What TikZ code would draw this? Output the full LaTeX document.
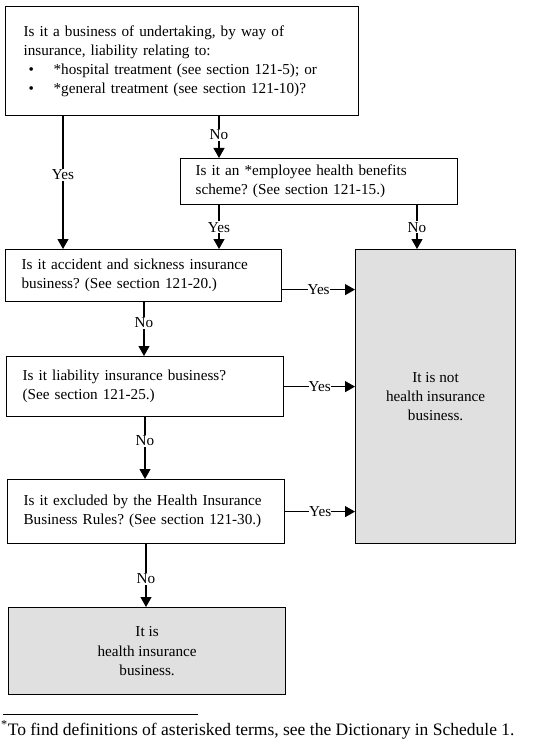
\documentclass[tikz,border=0pt]{standalone}
\usepackage{fontspec}
\setmainfont{Liberation Serif}
\usetikzlibrary{arrows.meta}
\definecolor{boxgrey}{HTML}{E0E0E0}
\frenchspacing
\begin{document}
\begin{tikzpicture}[x=1pt,y=-1pt,
  every node/.style={font=\fontsize{15.2}{19.2}\selectfont},
  qbox/.style={draw,line width=1.2pt,anchor=north west,align=left,inner ysep=0pt},
  abox/.style={draw,line width=1.2pt,fill=boxgrey,anchor=north west,align=center,inner sep=0pt},
  arr/.style={line width=1.2pt,-{Triangle[length=10pt,width=11pt]}},
  lab/.style={fill=white,inner sep=1pt}]
\useasboundingbox (0,0) rectangle (534,743);
\node[qbox,minimum width=353pt,minimum height=109pt,text width=317pt,inner xsep=18pt] (q1) at (5,6)
 {Is it a business of undertaking, by way of\\insurance, liability relating to:\\
  \hspace*{5pt}\makebox[25pt][l]{•}*hospital treatment (see section 121-5); or\\
  \hspace*{5pt}\makebox[25pt][l]{•}*general treatment (see section 121-10)?};
\node[qbox,minimum width=277pt,minimum height=46pt,text width=247pt,inner xsep=15pt] (q2) at (180,158)
 {Is it an *employee health benefits\\scheme? (See section 121-15.)};
\node[qbox,minimum width=276pt,minimum height=52pt,text width=244pt,inner xsep=16pt] (q3) at (5,249)
 {Is it accident and sickness insurance\\business? (See section 121-20.)};
\node[qbox,minimum width=277pt,minimum height=60pt,text width=245pt,inner xsep=16pt] (q4) at (6,356)
 {Is it liability insurance business?\\(See section 121-25.)};
\node[qbox,minimum width=277pt,minimum height=64pt,text width=245pt,inner xsep=16pt] (q5) at (7,479)
 {Is it excluded by the Health Insurance\\Business Rules? (See section 121-30.)};
\node[abox,minimum width=277pt,minimum height=87pt] (yes) at (8,607)
 {It is\\health insurance\\business.};
\node[abox,minimum width=160pt,minimum height=294pt] (no) at (355,249)
 {It is not\\health insurance\\business.};
% connectors
\draw[arr] ([xshift=58pt]q1.south west) -- node[lab,pos=0.44]{Yes} ([xshift=58pt]q1.south west |- q3.north);
\draw[arr] ([xshift=214pt]q1.south west) -- node[lab,pos=0.45]{No} ([xshift=214pt]q1.south west |- q2.north);
\draw[arr] ([xshift=39pt]q2.south west) -- node[lab]{Yes} ([xshift=39pt]q2.south west |- q3.north);
\draw[arr] ([xshift=237pt]q2.south west) -- node[lab]{No} ([xshift=237pt]q2.south west |- no.north);
\draw[arr] ([yshift=-14pt]q3.east) -- node[lab,inner sep=0pt]{Yes} ([yshift=-14pt]q3.east -| no.west);
\draw[arr] (q4.east) -- node[lab,inner sep=0pt]{Yes} (q4.east -| no.west);
\draw[arr] (q5.east) -- node[lab,inner sep=0pt]{Yes} (q5.east -| no.west);
\draw[arr] ([xshift=139pt]q3.south west) -- node[lab,pos=0.38]{No} ([xshift=139pt]q3.south west |- q4.north);
\draw[arr] ([xshift=139pt]q4.south west) -- node[lab,pos=0.38]{No} ([xshift=139pt]q4.south west |- q5.north);
\draw[arr] ([xshift=139pt]q5.south west) -- node[lab,pos=0.55]{No} ([xshift=139pt]q5.south west |- yes.north);
% footnote
\coordinate (fr1) at (3,714);
\coordinate (fr2) at (198,714);
\draw[line width=0.6pt] (fr1) -- (fr2);
\node[anchor=west,inner sep=0pt,font=\fontsize{17.5}{21}\selectfont] (fn) at (1,730) {\textsuperscript{*}To find definitions of asterisked terms, see the Dictionary in Schedule 1.};
\end{tikzpicture}
\end{document}
